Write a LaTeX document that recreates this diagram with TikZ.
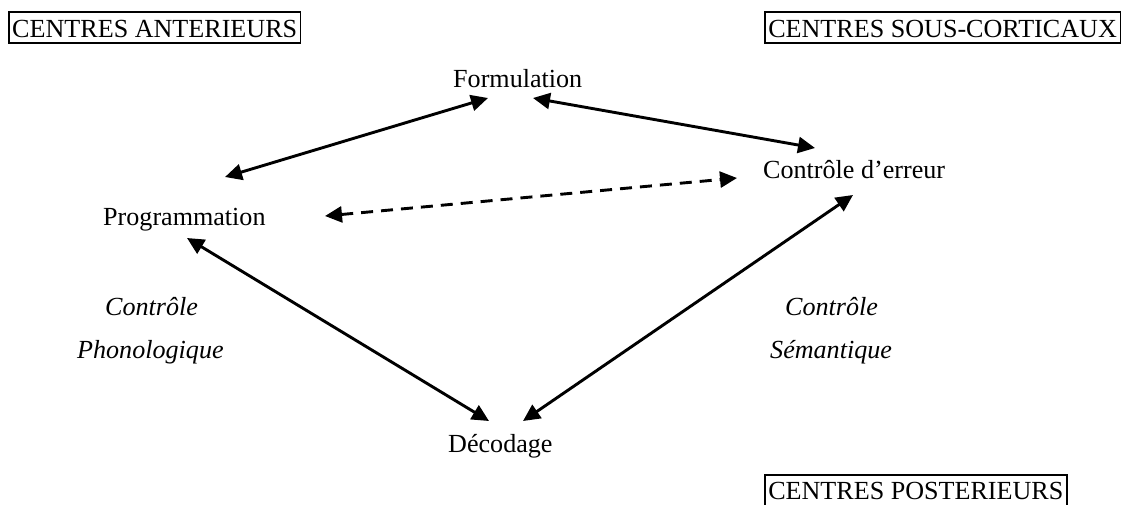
\documentclass[tikz,border=0pt]{standalone}
\usepackage{fontspec}
\setmainfont{Liberation Serif}
\usetikzlibrary{arrows.meta}
\begin{document}
\begin{tikzpicture}[x=1pt,y=-1pt,
  font=\fontsize{26.1}{30}\selectfont,
  lbl/.style={anchor=base west, inner sep=0pt},
  ilbl/.style={anchor=base west, inner sep=0pt, font=\fontsize{26.1}{30}\selectfont\itshape},
  boxlbl/.style={draw, line width=1.5pt, anchor=base west, inner xsep=3.5pt, inner ysep=0pt, text height=25pt, text depth=6pt},
  link/.style={line width=2.9pt, {Triangle[length=17pt,width=16pt]}-{Triangle[length=17pt,width=16pt]}},
  dlink/.style={link, dash pattern=on 12pt off 8pt}]
\useasboundingbox (0,0) rectangle (1126,504);

% boxes
\node[boxlbl] (ant) at (8,37) {CENTRES ANTERIEURS};
\node[boxlbl] (sous) at (764,37) {CENTRES SOUS-CORTICAUX};
\node[boxlbl, text height=24pt, text depth=10pt] (post) at (764,499) {CENTRES POSTERIEURS};

% labels
\node[lbl] (form) at (453,87) {Formulation};
\node[lbl] (ctrl) at (763,178) {Contrôle d’erreur};
\node[lbl] (prog) at (103,225) {Programmation};
\node[lbl] (deco) at (448,452) {Décodage};
\node[ilbl] (c1) at (105,315) {Contrôle};
\node[ilbl] (phon) at (77,358) {Phonologique};
\node[ilbl] (c2) at (785,315) {Contrôle};
\node[ilbl] (sem) at (770,358) {Sémantique};

% connector end points
\coordinate (fP) at (488,98);
\coordinate (pF) at (225,177);
\coordinate (fC) at (533,98);
\coordinate (cF) at (815,148);
\coordinate (pC) at (325,216);
\coordinate (cP) at (737,178);
\coordinate (pD) at (187,238);
\coordinate (dP) at (489,421);
\coordinate (cD) at (853,195);
\coordinate (dC) at (523,421);

\draw[link] (pF) -- (fP);
\draw[link] (fC) -- (cF);
\draw[dlink] (pC) -- (cP);
\draw[link] (pD) -- (dP);
\draw[link] (cD) -- (dC);
\end{tikzpicture}
\end{document}
